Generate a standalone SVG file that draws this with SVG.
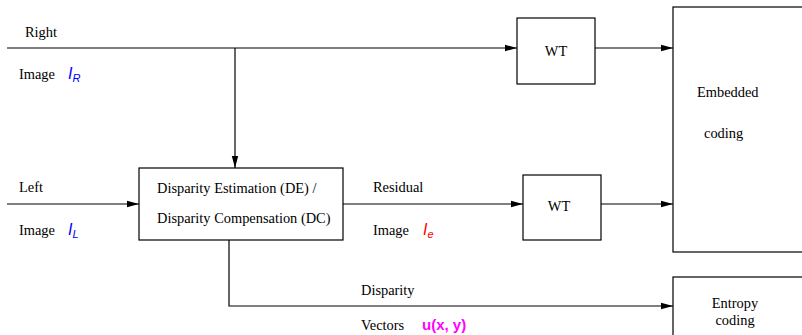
<svg xmlns="http://www.w3.org/2000/svg" width="802" height="335" viewBox="0 0 802 335">
<defs>
<marker id="ah" markerWidth="12" markerHeight="8" refX="12" refY="4" orient="auto" markerUnits="userSpaceOnUse">
<path d="M0,0.8 L12,4 L0,7.2 Z" fill="#000"/>
</marker>
<style>
.box{fill:#fff;stroke:#000;stroke-width:1.2}
.ln{fill:none;stroke:#000;stroke-width:1.2}
.t{font-family:"Liberation Serif","Times New Roman",serif;font-size:14.4px;fill:#000}
.m{font-family:"Liberation Sans",sans-serif;font-style:italic;font-size:16px}
.u{font-family:"Liberation Sans",sans-serif;font-weight:bold;font-size:15px;fill:#ff00ff}
</style>
</defs>
<rect width="802" height="335" fill="#fff"/>
<g id="connectors">
<path class="ln" d="M7,48 H517" marker-end="url(#ah)"/>
<path class="ln" d="M595,48 H673" marker-end="url(#ah)"/>
<path class="ln" d="M235,48 V168" marker-end="url(#ah)"/>
<path class="ln" d="M7,204 H139" marker-end="url(#ah)"/>
<path class="ln" d="M343,204 H523" marker-end="url(#ah)"/>
<path class="ln" d="M601,204 H673" marker-end="url(#ah)"/>
<path class="ln" d="M229,240 V306 H673" marker-end="url(#ah)"/>
</g>
<g id="labels">
<text class="t" x="25" y="37">Right</text>
<text class="t" x="19" y="79">Image</text>
<text x="68" y="79" class="m" fill="#0000ff">I<tspan font-size="11" dy="3">R</tspan></text>
<text class="t" x="19" y="192">Left</text>
<text class="t" x="19" y="235">Image</text>
<text x="68" y="235" class="m" fill="#0000ff">I<tspan font-size="11" dy="3">L</tspan></text>
<text class="t" x="373" y="192">Residual</text>
<text class="t" x="373" y="235">Image</text>
<text x="423" y="235" class="m" fill="#ff0000">I<tspan font-size="11" dy="3">e</tspan></text>
<text class="t" x="361" y="295">Disparity</text>
<text class="t" x="361" y="330">Vectors</text>
<text class="u" x="422" y="330">u(x, y)</text>
</g>
<g id="wt1">
<rect class="box" x="517" y="18" width="78" height="66"/>
<text class="t" x="556" y="56" text-anchor="middle">WT</text>
</g>
<g id="de">
<rect class="box" x="139" y="168" width="204" height="72"/>
<text class="t" x="157" y="193">Disparity Estimation (DE) /</text>
<text class="t" x="157" y="223">Disparity Compensation (DC)</text>
</g>
<g id="wt2">
<rect class="box" x="523" y="175" width="78" height="65"/>
<text class="t" x="559" y="211" text-anchor="middle">WT</text>
</g>
<g id="embedded">
<rect class="box" x="673" y="7" width="140" height="245"/>
<text class="t" x="697" y="97">Embedded</text>
<text class="t" x="704" y="138">coding</text>
</g>
<g id="entropy">
<rect class="box" x="673" y="277" width="140" height="70"/>
<text class="t" x="735" y="308" text-anchor="middle">Entropy</text>
<text class="t" x="735" y="325" text-anchor="middle">coding</text>
</g>
</svg>
